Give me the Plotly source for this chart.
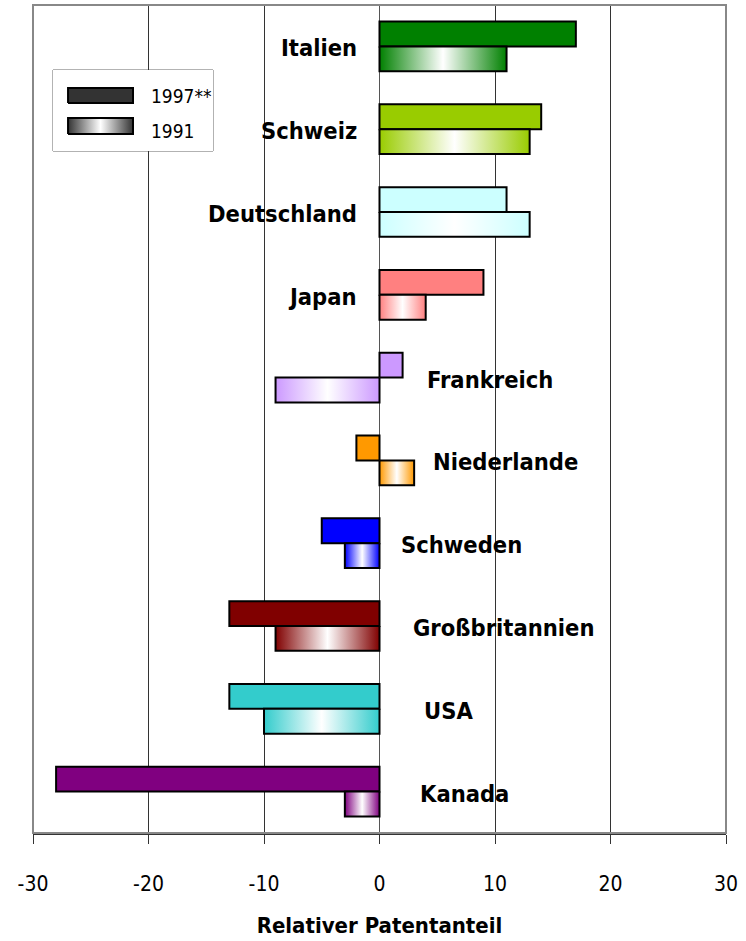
import plotly.graph_objects as go

# %%
countries = ["Italien", "Schweiz", "Deutschland", "Japan", "Frankreich",
             "Niederlande", "Schweden", "Großbritannien", "USA", "Kanada"]
val_1997 = [17, 14, 11, 9, 2, -2, -5, -13, -13, -28]
val_1991 = [11, 13, 13, 4, -9, 3, -3, -9, -10, -3]
colors = ["#008000", "#99CC00", "#CCFFFF", "#FF8080", "#CC99FF",
          "#FF9900", "#0000FF", "#800000", "#33CCCC", "#800080"]
# label placement: (anchor, x in data units)
label_pos = [("right", 0), ("right", 0), ("right", 0), ("right", 0), ("left", 3.9),
             ("left", 4.5), ("left", 1.7), ("left", 2.7), ("left", 3.7), ("left", 3.3)]

bw = 0.3
ypos = list(range(len(countries)))
narrow = "DejaVu Sans Condensed, Liberation Sans Narrow, sans-serif"

fig = go.Figure()

# 1997 bars (solid)
fig.add_trace(go.Bar(x=val_1997, y=ypos, orientation="h", width=bw, offset=-bw,
                     marker=dict(color=colors, line=dict(color="black", width=2)),
                     showlegend=False))

# 1991 bars (gradient fill, colour -> white -> colour)
for i, (v, c) in enumerate(zip(val_1991, colors)):
    fig.add_trace(go.Scatter(
        x=[0, v, v, 0, 0], y=[i, i, i + bw, i + bw, i],
        mode="lines", fill="toself",
        fillgradient=dict(type="horizontal",
                          colorscale=[[0, c], [0.5, "white"], [1, c]]),
        line=dict(color="black", width=2), showlegend=False, hoverinfo="skip"))

# country labels
for i, (name, (anc, lx)) in enumerate(zip(countries, label_pos)):
    fig.add_annotation(x=lx, y=i, text="<b>%s</b>" % name, showarrow=False,
                       xanchor=anc, xshift=-21 if anc == "right" else 0, yshift=-2,
                       font=dict(family=narrow, size=23.5, color="black"))

# hand-made legend on a small inset axis
fig.add_trace(go.Scatter(x=[0.094, 0.5, 0.5, 0.094, 0.094], y=[0.593, 0.593, 0.778, 0.778, 0.593],
                         mode="lines", fill="toself", fillcolor="#333333",
                         line=dict(color="black", width=2), xaxis="x2", yaxis="y2",
                         showlegend=False, hoverinfo="skip"))
fig.add_trace(go.Scatter(x=[0.094, 0.5, 0.5, 0.094, 0.094], y=[0.21, 0.21, 0.407, 0.407, 0.21],
                         mode="lines", fill="toself",
                         fillgradient=dict(type="horizontal",
                                           colorscale=[[0, "#333333"], [0.5, "white"], [1, "#333333"]]),
                         line=dict(color="black", width=2), xaxis="x2", yaxis="y2",
                         showlegend=False, hoverinfo="skip"))
for txt, yy in [("1997**", 0.68), ("1991", 0.25)]:
    fig.add_annotation(x=0.6, y=yy, xref="x2", yref="y2", text=txt, showarrow=False,
                       xanchor="left", font=dict(family=narrow, size=19, color="black"))

lx0, lx1 = 20 / 693, 180 / 693
ly0, ly1 = 682 / 828, 763 / 828
fig.add_shape(type="rect", xref="paper", yref="paper", x0=lx0, x1=lx1, y0=ly0, y1=ly1,
              fillcolor="white", line=dict(color="#666666", width=1), layer="between")
# outer frame
fig.add_shape(type="rect", xref="paper", yref="paper", x0=0, x1=1, y0=0, y1=1,
              line=dict(color="#888888", width=2), layer="above")

fig.update_layout(
    width=746, height=941,
    margin=dict(l=33, r=20, t=5, b=108),
    plot_bgcolor="white", paper_bgcolor="white",
    showlegend=False,
    xaxis=dict(range=[-30, 30], tickvals=[-30, -20, -10, 0, 10, 20, 30],
               ticktext=["-30", "-20", "-10", "0", "10", "20", "30"],
               showgrid=True, gridcolor="#333333", gridwidth=1,
               zeroline=True, zerolinecolor="#555555", zerolinewidth=1,
               showline=True, linecolor="#333333", linewidth=2,
               ticks="outside", ticklen=9, tickcolor="#333333",
               ticklabelstandoff=22,
               tickfont=dict(family=narrow, size=21, color="black"),
               title=dict(text="<b>Relativer Patentanteil</b>", standoff=22,
                          font=dict(family=narrow, size=22, color="black"))),
    yaxis=dict(range=[len(countries) - 0.5, -0.5], showticklabels=False,
               showgrid=False, zeroline=False, ticks=""),
    xaxis2=dict(domain=[lx0, lx1], range=[0, 1], anchor="y2", visible=False, fixedrange=True),
    yaxis2=dict(domain=[ly0, ly1], range=[0, 1], anchor="x2", visible=False, fixedrange=True),
)

fig.write_html("out.html", config={"displayModeBar": False},
               post_script="document.body.style.margin='0';")
